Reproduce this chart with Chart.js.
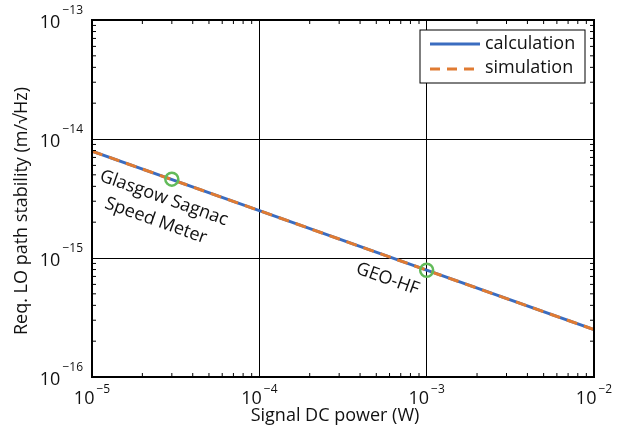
<!DOCTYPE html>
<html>
<head>
<meta charset="utf-8">
<script src="https://cdn.jsdelivr.net/npm/chart.js@4"></script>
<style>
  html, body { margin: 0; padding: 0; background: #fff; }
  #wrap { width: 623px; height: 432px; }
</style>
</head>
<body>
<div id="wrap"><canvas id="myChart"></canvas></div>
<script>
// data
const powerW = [1e-5, 1e-4, 1e-3, 1e-2];
const calculation = [7.9e-15, 2.5e-15, 7.9e-16, 2.5e-16];
const simulation = [7.9e-15, 2.5e-15, 7.9e-16, 2.5e-16];
const detectorNames = [['Glasgow Sagnac', 'Speed Meter'], ['GEO-HF']];
const detectorPower = [3e-5, 1e-3];
const detectorStability = [4.6e-15, 7.9e-16];
const xTicks = [-5, -4, -3, -2];
const yTicks = [-16, -15, -14, -13];

const FONT = '"Open Sans", "Noto Sans", sans-serif';
const blue = '#3a6cc0';
const orange = '#e07b32';
const green = '#62bb5a';

function isDecade(v) {
  const l = Math.log10(v);
  return Math.abs(l - Math.round(l)) < 1e-6;
}

// axis frame, inward minor ticks, power labels, titles, legend, notes
const decorations = {
  id: 'decorations',
  afterDraw(chart) {
    const c = chart.ctx;
    const a = chart.chartArea;
    const xs = chart.scales.x, ys = chart.scales.y;
    c.save();
    c.strokeStyle = '#000';
    c.lineWidth = 1;
    // minor ticks
    for (let d = -5; d < -2; d++) {
      for (let k = 2; k < 10; k++) {
        const px = xs.getPixelForValue(k * Math.pow(10, d));
        c.beginPath();
        c.moveTo(px, a.bottom); c.lineTo(px, a.bottom - 4);
        c.moveTo(px, a.top); c.lineTo(px, a.top + 4);
        c.stroke();
      }
    }
    for (let d = -16; d < -13; d++) {
      for (let k = 2; k < 10; k++) {
        const py = ys.getPixelForValue(k * Math.pow(10, d));
        c.beginPath();
        c.moveTo(a.left, py); c.lineTo(a.left + 4, py);
        c.moveTo(a.right, py); c.lineTo(a.right - 4, py);
        c.stroke();
      }
    }
    // frame
    c.lineWidth = 2;
    c.strokeRect(a.left, a.top, a.right - a.left, a.bottom - a.top);

    // tick labels 10^n
    c.fillStyle = '#111';
    c.textBaseline = 'alphabetic';
    xTicks.forEach(function (n) {
      const px = xs.getPixelForValue(Math.pow(10, n));
      c.font = '18px ' + FONT;
      const w1 = c.measureText('10').width;
      c.font = '12px ' + FONT;
      const sup = '\u2212' + Math.abs(n);
      const w2 = c.measureText(sup).width;
      const x0 = px - (w1 + w2 + 2) / 2;
      c.textAlign = 'left';
      c.font = '18px ' + FONT;
      c.fillText('10', x0, a.bottom + 27);
      c.font = '12px ' + FONT;
      c.fillText(sup, x0 + w1 + 2, a.bottom + 16);
    });
    yTicks.forEach(function (n) {
      const py = ys.getPixelForValue(Math.pow(10, n));
      c.font = '12px ' + FONT;
      const sup = '\u2212' + Math.abs(n);
      const w2 = c.measureText(sup).width;
      c.textAlign = 'right';
      c.fillText(sup, a.left - 9, py - 6);
      c.font = '18px ' + FONT;
      c.fillText('10', a.left - 11 - w2, py + 8);
    });

    // axis titles
    c.font = '18px ' + FONT;
    c.textAlign = 'center';
    c.fillText('Signal DC power (W)', 335, a.bottom + 44);
    c.save();
    c.translate(27, 211);
    c.rotate(-Math.PI / 2);
    c.fillText('Req. LO path stability (m/\u221AHz)', 0, 0);
    c.restore();

    // legend
    const lx = a.right - 174, ly = a.top + 10;
    c.fillStyle = '#fff';
    c.fillRect(lx, ly, 165, 53);
    c.lineWidth = 1;
    c.strokeStyle = '#000';
    c.strokeRect(lx, ly, 165, 53);
    c.lineWidth = 3;
    c.strokeStyle = blue;
    c.beginPath(); c.moveTo(lx + 10, ly + 14); c.lineTo(lx + 60, ly + 14); c.stroke();
    c.strokeStyle = orange;
    c.setLineDash([10, 7]);
    c.beginPath(); c.moveTo(lx + 10, ly + 39); c.lineTo(lx + 60, ly + 39); c.stroke();
    c.setLineDash([]);
    c.fillStyle = '#111';
    c.font = '18px ' + FONT;
    c.textAlign = 'left';
    c.textBaseline = 'middle';
    c.fillText('calculation', lx + 65, ly + 14);
    c.fillText('simulation', lx + 65, ly + 38);

    // rotated detector notes, aligned with the curve
    const p0x = xs.getPixelForValue(powerW[0]), p0y = ys.getPixelForValue(calculation[0]);
    const p1x = xs.getPixelForValue(powerW[powerW.length - 1]), p1y = ys.getPixelForValue(calculation[calculation.length - 1]);
    const ang = Math.atan2(p1y - p0y, p1x - p0x);
    const offsets = [[-8, 19], [-39, 9]];
    c.font = '18px ' + FONT;
    c.textAlign = 'center';
    c.textBaseline = 'middle';
    detectorNames.forEach(function (lines, i) {
      const mx = xs.getPixelForValue(detectorPower[i]);
      const my = ys.getPixelForValue(detectorStability[i]);
      c.save();
      c.translate(mx + offsets[i][0], my + offsets[i][1]);
      c.rotate(ang);
      lines.forEach(function (t, j) {
        c.fillText(t, 0, j * 24);
      });
      c.restore();
    });
    c.restore();
  }
};

const ctx = document.getElementById('myChart');
new Chart(ctx, {
  type: 'line',
  data: {
    datasets: [{
      label: 'calculation',
      data: powerW.map((x, i) => ({ x: x, y: calculation[i] })),
      borderColor: blue,
      borderWidth: 3,
      pointRadius: 0,
      order: 2
    }, {
      label: 'simulation',
      data: powerW.map((x, i) => ({ x: x, y: simulation[i] })),
      borderColor: orange,
      borderWidth: 3,
      borderDash: [11, 7],
      pointRadius: 0,
      order: 1
    }, {
      label: 'detectors',
      data: detectorPower.map((x, i) => ({ x: x, y: detectorStability[i] })),
      showLine: false,
      pointRadius: 6.5,
      pointBorderWidth: 2.5,
      pointBorderColor: green,
      pointBackgroundColor: 'rgba(0,0,0,0)',
      order: 0
    }]
  },
  options: {
    responsive: true,
    maintainAspectRatio: false,
    animation: false,
    layout: { padding: { left: 92, top: 20, right: 29, bottom: 55 } },
    plugins: { legend: { display: false }, tooltip: { enabled: false } },
    scales: {
      x: {
        type: 'logarithmic',
        min: 1e-5, max: 1e-2,
        border: { display: false },
        ticks: { display: false },
        grid: {
          drawTicks: false,
          lineWidth: 1,
          color: c => (c.tick && isDecade(c.tick.value)) ? '#000' : 'rgba(0,0,0,0)'
        }
      },
      y: {
        type: 'logarithmic',
        min: 1e-16, max: 1e-13,
        border: { display: false },
        ticks: { display: false },
        grid: {
          drawTicks: false,
          lineWidth: 1,
          color: c => (c.tick && isDecade(c.tick.value)) ? '#000' : 'rgba(0,0,0,0)'
        }
      }
    }
  },
  plugins: [decorations]
});
</script>
</body>
</html>
